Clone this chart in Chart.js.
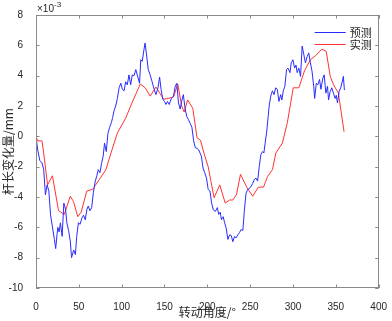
<!DOCTYPE html>
<html lang="zh">
<head>
<meta charset="UTF-8" />
<title>杆长变化量</title>
<script src="https://cdn.jsdelivr.net/npm/chart.js"></script>
<style>
  html, body { margin: 0; padding: 0; background: #fff; }
  #wrap { width: 392px; height: 321px; position: relative; }
</style>
</head>
<body>
<div id="wrap"><canvas id="c"></canvas></div>
<script>
// tick labels (values in units of 1e-3 mm)
const xTicks = [0, 50, 100, 150, 200, 250, 300, 350, 400];
const yTicks = [-10, -8, -6, -4, -2, 0, 2, 4, 6, 8];

// 预测 (blue)
const angleBlue = [0, 2, 4.5, 7, 9, 11, 13, 15, 17, 19, 21.5, 23, 24.5, 25.5, 27, 28.5, 30.5, 32.5, 34.5, 36,
  38, 40, 41.5, 44, 46, 47.5, 49.5, 51.5, 53.5, 55.5, 57.5, 59.5, 61, 63, 65, 67, 69, 71, 72.7, 74.6,
  76.5, 78.4, 80, 82, 84, 86, 88, 89.5, 91.2, 93, 95, 97, 99, 100.8, 102.8, 104.7, 106.6, 108.5, 110.5, 112.4,
  114.5, 116.5, 118.2, 120.9, 122.3, 124, 126, 127.3, 128.8, 131, 133, 135, 136.5, 138.5, 140, 142.4, 144.3, 146, 148, 150,
  151.7, 153.5, 155.5, 158, 160.5, 162.5, 164.4, 166.3, 168.3, 170, 172, 174, 176, 178, 180, 182, 184, 186, 188, 190,
  193, 195, 197, 199, 201, 203, 205, 207, 209.4, 211.7, 213.3, 215, 216.5, 218.5, 220.2, 222, 224, 226, 228, 229.8,
  231.7, 233.5, 235.6, 237.5, 239.4, 241.5, 243.3, 245.2, 247.2, 249, 251, 253, 254.8, 256.8, 258.7, 260.6, 262.5, 264.5, 266, 267.5,
  269.4, 271, 272.2, 274, 276, 277.9, 279.8, 281.7, 283.6, 285.6, 287, 288.7, 290.5, 292.5, 294.1, 296.5, 298, 299.9, 301.9, 303.5,
  304.9, 306.8, 308.8, 310.7, 312.6, 314.5, 316.5, 318.4, 320.3, 322.2, 324.2, 325.3, 327.2, 329, 331, 332.6, 334.9, 336.4, 338.4, 340.3,
  341.5, 343.4, 345.3, 347.2, 349.2, 350.5, 351.9, 353.8, 355.7, 357.7, 358.8, 360];
const valueBlue = [0, -0.9, -1.6, -1.75, -2.2, -3.85, -3.2, -3.6, -5.2, -5.9, -6.8, -7.4, -6.5, -6.0, -6.3, -5.7, -6.6, -4.4, -4.8, -5.7,
  -6.2, -6.9, -8.0, -7.5, -7.8, -6.6, -5.7, -5.8, -5.4, -5.2, -5.5, -4.8, -4.6, -4.9, -4.7, -3.7, -3.0, -2.6, -2.2, -2.4,
  -1.8, -1.3, -0.45, -1.0, 0.2, 0.6, 0.9, 1.25, 1.7, 2.0, 2.5, 3.2, 3.5, 3.1, 3.0, 3.6, 3.4, 4.05, 3.4, 4.05,
  4.0, 4.4, 4.05, 3.5, 5.05, 4.95, 5.7, 6.15, 5.5, 4.4, 4.1, 3.7, 3.4, 3.0, 2.75, 3.2, 3.9, 3.1, 2.45, 2.3,
  2.1, 2.3, 2.1, 2.5, 2.65, 3.3, 3.5, 2.2, 1.8, 2.3, 2.75, 1.85, 1.3, 1.1, 0.85, 0.6, -0.3, -0.75, -0.8, -0.9,
  -1.3, -2.1, -2.4, -2.75, -3.5, -3.6, -4.4, -4.85, -4.95, -4.7, -5.15, -5.0, -5.5, -5.3, -5.7, -6.05, -6.8, -6.5, -6.55, -6.95,
  -6.6, -6.7, -6.5, -6.35, -6.15, -6.2, -4.85, -3.75, -3.5, -3.45, -3.3, -3.1, -2.85, -2.75, -2.95, -2.0, -1.2, -1.0, -1.1, -0.45,
  0.35, 1.3, 2.0, 2.65, 3.0, 2.75, 3.2, 3.1, 2.3, 2.75, 2.4, 3.0, 3.3, 4.4, 4.5, 4.2, 4.85, 5.05, 4.5, 4.7,
  4.2, 4.5, 3.95, 5.95, 5.4, 4.85, 5.25, 5.5, 4.85, 4.3, 3.3, 2.5, 3.5, 3.4, 3.75, 3.1, 3.85, 4.05, 2.85, 3.3,
  2.4, 2.95, 3.2, 2.85, 2.5, 2.7, 2.2, 2.95, 3.2, 3.65, 3.95, 3.05];

// 实测 (red)
const angleRed = [0, 2, 7, 8.5, 13.5, 19.2, 26.3, 33, 40, 43.8, 48.8, 52.7, 59.3, 66, 73.9, 81.6, 87.5, 95, 104.7, 112,
  121.7, 127.5, 133.3, 140, 145, 149, 154.7, 160.5, 165.5, 170, 173, 177, 183, 188, 192, 196, 201, 204, 207.9, 214.5,
  220.9, 226, 229.8, 234, 238.7, 246, 253, 259.5, 265.6, 270.3, 276, 280, 287.6, 293.4, 300.3, 306.8, 313.3, 320.3, 326, 333.8,
  338.8, 343.5, 347.3, 353, 359.6];
const valueRed = [0, -0.3, -0.3, -0.9, -3.2, -2.6, -4.9, -5.15, -3.95, -4.3, -5.3, -5.0, -3.6, -3.5, -2.85, -2.2, -1.1, 0.22, 1.2, 2.2,
  3.45, 3.2, 2.65, 3.25, 2.8, 2.45, 2.5, 2.6, 3.45, 2.0, 1.6, 2.4, 1.85, -0.1, -0.25, -1.1, -2.0, -2.9, -4.05, -3.2,
  -4.4, -4.2, -4.2, -3.85, -2.5, -3.35, -3.95, -3.35, -3.35, -2.65, -2.2, -1.1, -0.45, 0.9, 3.2, 3.2, 4.3, 5.05, 5.3, 5.75,
  5.6, 3.95, 3.4, 2.85, 0.3];

const seriesNames = ['预测', '实测'];
const seriesColors = ['#2b2bff', '#ff3333'];

const toPoints = (xs, ys) => xs.map((x, i) => ({ x: x, y: ys[i] }));

const AXIS = '#8a8a8a';
const TEXT = '#262626';

// box, inward ticks, exponent label and legend (MATLAB look)
const matlabAxes = {
  id: 'matlabAxes',
  afterDatasetsDraw(chart) {
    const { ctx, chartArea: a, scales: { x, y } } = chart;
    ctx.save();
    ctx.strokeStyle = AXIS;
    ctx.lineWidth = 1;
    ctx.strokeRect(Math.round(a.left) + 0.5, Math.round(a.top) + 0.5,
      Math.round(a.right - a.left) - 1, Math.round(a.bottom - a.top) - 1);
    const tl = 3.5;
    ctx.beginPath();
    xTicks.forEach(v => {
      const px = Math.round(x.getPixelForValue(v)) + 0.5;
      ctx.moveTo(px, a.bottom); ctx.lineTo(px, a.bottom - tl);
      ctx.moveTo(px, a.top); ctx.lineTo(px, a.top + tl);
    });
    yTicks.forEach(v => {
      const py = Math.round(y.getPixelForValue(v)) + 0.5;
      ctx.moveTo(a.left, py); ctx.lineTo(a.left + tl, py);
      ctx.moveTo(a.right, py); ctx.lineTo(a.right - tl, py);
    });
    ctx.stroke();

    // ×10^-3
    ctx.fillStyle = TEXT;
    ctx.textBaseline = 'alphabetic';
    ctx.textAlign = 'left';
    ctx.font = '10px "Liberation Sans", Arial, sans-serif';
    ctx.fillText('×10', a.left + 1, a.top - 3);
    const w = ctx.measureText('×10').width;
    ctx.font = '8px "Liberation Sans", Arial, sans-serif';
    ctx.fillText('-3', a.left + 1 + w, a.top - 8);

    // legend
    ctx.font = '11px "Noto Sans CJK SC", sans-serif';
    ctx.textBaseline = 'middle';
    seriesNames.forEach((name, i) => {
      const ly = a.top + 17.5 + i * 12;
      ctx.strokeStyle = seriesColors[i];
      ctx.beginPath();
      ctx.moveTo(a.right - 64, ly); ctx.lineTo(a.right - 33, ly);
      ctx.stroke();
      ctx.fillStyle = TEXT;
      ctx.fillText(name, a.right - 29, ly);
    });
    ctx.restore();
  }
};

new Chart(document.getElementById('c'), {
  type: 'line',
  data: {
    datasets: [
      { label: seriesNames[0], data: toPoints(angleBlue, valueBlue), borderColor: seriesColors[0], borderWidth: 1, pointRadius: 0, tension: 0 },
      { label: seriesNames[1], data: toPoints(angleRed, valueRed), borderColor: seriesColors[1], borderWidth: 1, pointRadius: 0, tension: 0 }
    ]
  },
  options: {
    responsive: true,
    maintainAspectRatio: false,
    animation: false,
    layout: { padding: { top: 15, right: 10, left: 0, bottom: 0 } },
    plugins: { legend: { display: false }, tooltip: { enabled: false } },
    scales: {
      x: {
        type: 'linear', min: 0, max: 400,
        afterBuildTicks: s => { s.ticks = xTicks.map(v => ({ value: v })); },
        afterFit: s => { s.height = 33; },
        grid: { display: false }, border: { display: false },
        ticks: { padding: 5, color: TEXT, font: { family: '"Liberation Sans", Arial, sans-serif', size: 10 }, maxRotation: 0 },
        title: { display: true, text: '转动角度/°', color: TEXT, padding: { top: 0, bottom: 1 },
          font: { family: '"Noto Sans CJK SC", sans-serif', size: 12 } }
      },
      y: {
        min: -10, max: 8,
        afterBuildTicks: s => { s.ticks = yTicks.map(v => ({ value: v })); },
        afterFit: s => { s.width = 36; },
        grid: { display: false }, border: { display: false },
        ticks: { padding: 5, color: TEXT, font: { family: '"Liberation Sans", Arial, sans-serif', size: 10 } },
        title: { display: true, text: '杆长变化量/mm', color: TEXT, padding: { top: 1, bottom: 0 },
          font: { family: '"Noto Sans CJK SC", sans-serif', size: 12 } }
      }
    }
  },
  plugins: [matlabAxes]
});
</script>
</body>
</html>
